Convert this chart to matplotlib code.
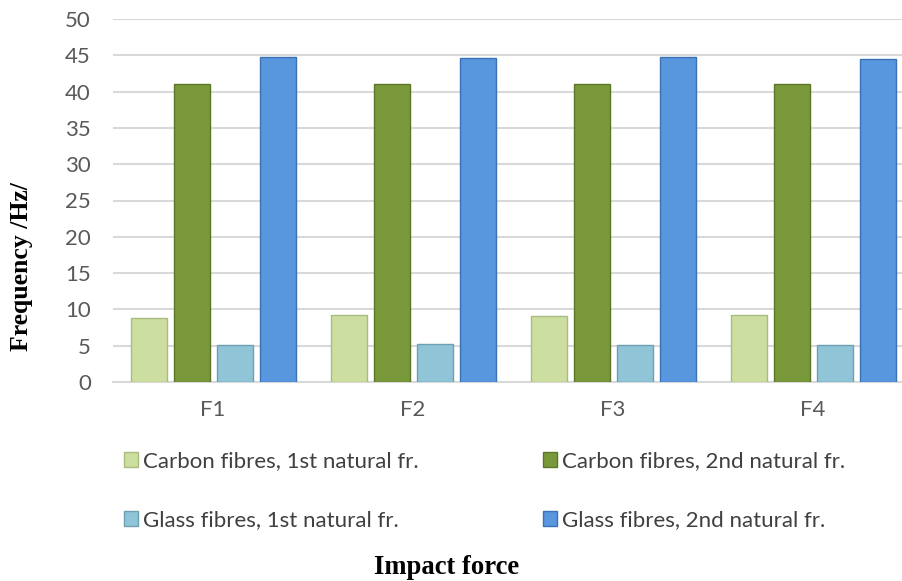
import matplotlib
matplotlib.use("Agg")
import matplotlib.pyplot as plt
import numpy as np
from matplotlib.patches import Patch

# data
forces = ["F1", "F2", "F3", "F4"]
series_names = [
    "Carbon fibres, 1st natural fr.",
    "Carbon fibres, 2nd natural fr.",
    "Glass fibres, 1st natural fr.",
    "Glass fibres, 2nd natural fr.",
]
carbon_1st = [8.8, 9.2, 9.1, 9.2]
carbon_2nd = [41.1, 41.0, 41.1, 41.0]
glass_1st = [5.1, 5.3, 5.1, 5.1]
glass_2nd = [44.7, 44.6, 44.7, 44.5]
y_ticks = [0, 5, 10, 15, 20, 25, 30, 35, 40, 45, 50]

# colours
_FACES = ["#CCDEA0", "#799839", "#90C4D7", "#5896DE"]
_EDGES = ["#A9BC80", "#5C7629", "#6FA0B2", "#3A72B8"]
_GRID = "#D9D9D9"
_TEXT = "#595959"
_FS = 16

plt.rcParams["font.family"] = ["Lato", "DejaVu Sans"]

fig = plt.figure(figsize=(9.02, 5.81), dpi=100)
ax = fig.add_axes([113 / 902, 199 / 581, 800 / 902, 363 / 581])

x = np.arange(len(forces))
width = 0.18
step = 0.215
all_series = [carbon_1st, carbon_2nd, glass_1st, glass_2nd]
for i, vals in enumerate(all_series):
    off = (i - 1.5) * step
    ax.bar(x + off, vals, width, color=_FACES[i], edgecolor=_EDGES[i],
           linewidth=1.0, zorder=3)

ax.set_xlim(-0.5, 3.5)
ax.set_ylim(0, 50)
ax.set_yticks(y_ticks)
ax.set_xticks(x)
ax.set_xticklabels(forces)

ax.grid(axis="y", color=_GRID, linewidth=1.5, zorder=0)
for side in ["top", "right", "left"]:
    ax.spines[side].set_visible(False)
ax.spines["bottom"].set_color(_GRID)
ax.spines["bottom"].set_linewidth(1.5)
ax.tick_params(axis="both", length=0, colors=_TEXT, labelsize=_FS)
ax.tick_params(axis="y", pad=16)
ax.tick_params(axis="x", pad=13)

fig.text(22 / 902, 1 - 267 / 581, "Frequency /Hz/", rotation=90,
         ha="center", va="center", fontsize=18.5, fontweight="bold",
         family=["Liberation Serif"])
fig.text(447 / 902, 1 - 568 / 581, "Impact force",
         ha="center", va="center", fontsize=19.2, fontweight="bold",
         family=["Liberation Serif"])

# legend: 2 x 2 grid, filled row by row
spots = [(124, 461), (543, 461), (124, 520), (543, 520)]
for i, (px, py) in enumerate(spots):
    h = Patch(facecolor=_FACES[i], edgecolor=_EDGES[i])
    fig.legend([h], [series_names[i]], loc="center left",
               bbox_to_anchor=(px / 902, 1 - py / 581), frameon=False,
               fontsize=_FS, labelcolor="#404040", handlelength=0.65,
               handleheight=0.65, handletextpad=0.2, borderpad=0,
               borderaxespad=0)

fig.savefig("out.png", dpi=100)
